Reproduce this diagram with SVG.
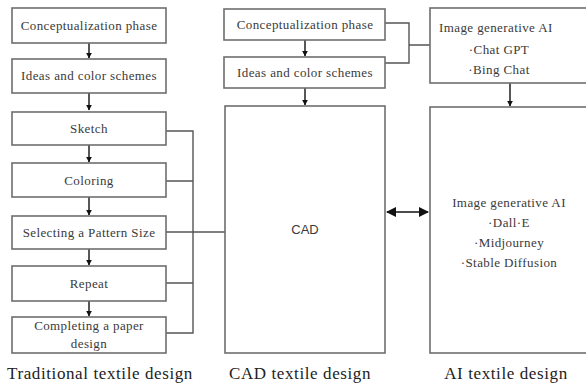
<svg xmlns="http://www.w3.org/2000/svg" width="586" height="388" viewBox="0 0 586 388">
<defs>
<style>
.box{fill:#fff;stroke:#6e6e6e;stroke-width:1.6}
.ln{fill:none;stroke:#555;stroke-width:1.4}
.arr{fill:none;stroke:#111;stroke-width:1.4}
.t{font-family:"Liberation Serif","DejaVu Serif",serif;font-size:13px;letter-spacing:0.4px;fill:#3a3a3a;text-anchor:middle}
.tl{font-family:"Liberation Serif","DejaVu Serif",serif;font-size:17px;letter-spacing:0.6px;fill:#222;text-anchor:middle}
.s{font-family:"Liberation Sans",Arial,sans-serif;font-size:13px;fill:#3a3a3a;text-anchor:middle}
</style>
<marker id="ah" viewBox="0 0 10 10" refX="9" refY="5" markerWidth="6" markerHeight="6" orient="auto-start-reverse" markerUnits="userSpaceOnUse">
<path d="M0,0 L10,5 L0,10 z" fill="#111"/>
</marker>
<marker id="ah2" viewBox="0 0 10 10" refX="9" refY="5" markerWidth="10" markerHeight="10" orient="auto-start-reverse" markerUnits="userSpaceOnUse">
<path d="M0,0 L10,5 L0,10 z" fill="#111"/>
</marker>
</defs>
<rect width="586" height="388" fill="#fff"/>
<g id="connectors">
<line class="arr" x1="89" y1="43" x2="89" y2="58" marker-end="url(#ah)"/>
<line class="arr" x1="89" y1="93" x2="89" y2="110" marker-end="url(#ah)"/>
<line class="arr" x1="89" y1="145" x2="89" y2="162" marker-end="url(#ah)"/>
<line class="arr" x1="89" y1="197" x2="89" y2="215" marker-end="url(#ah)"/>
<line class="arr" x1="89" y1="249" x2="89" y2="265" marker-end="url(#ah)"/>
<line class="arr" x1="89" y1="301" x2="89" y2="316" marker-end="url(#ah)"/>
<path class="ln" d="M166,131 H193 V333 H166 M166,181 H193 M166,283 H193 M166,232 H225"/>
<line class="arr" x1="305" y1="40" x2="305" y2="56" marker-end="url(#ah)"/>
<line class="arr" x1="305" y1="88" x2="305" y2="105" marker-end="url(#ah)"/>
<path class="ln" d="M385,23 H409 V63 H385 M409,45 H430"/>
<line class="arr" x1="510" y1="83" x2="510" y2="106" marker-end="url(#ah)"/>
<line class="arr" x1="387" y1="212" x2="428" y2="212" stroke-width="2.2" marker-start="url(#ah2)" marker-end="url(#ah2)"/>
</g>
<g id="trad-1"><rect class="box" x="12" y="8" width="154" height="35"/><text class="t" x="89" y="30">Conceptualization phase</text></g>
<g id="trad-2"><rect class="box" x="12" y="59" width="154" height="34"/><text class="t" x="89" y="80">Ideas and color schemes</text></g>
<g id="trad-3"><rect class="box" x="12" y="112" width="154" height="33"/><text class="t" x="89" y="133">Sketch</text></g>
<g id="trad-4"><rect class="box" x="12" y="163" width="154" height="34"/><text class="t" x="89" y="185">Coloring</text></g>
<g id="trad-5"><rect class="box" x="12" y="216" width="154" height="33"/><text class="t" x="89" y="237">Selecting a Pattern Size</text></g>
<g id="trad-6"><rect class="box" x="12" y="266" width="154" height="35"/><text class="t" x="89" y="288">Repeat</text></g>
<g id="trad-7"><rect class="box" x="12" y="317" width="154" height="36"/><text class="t" x="89" y="330">Completing a paper</text><text class="t" x="89" y="348">design</text></g>
<g id="cad-1"><rect class="box" x="224" y="9" width="161" height="31"/><text class="t" x="305" y="29">Conceptualization phase</text></g>
<g id="cad-2"><rect class="box" x="224" y="57" width="161" height="31"/><text class="t" x="305" y="77">Ideas and color schemes</text></g>
<g id="cad"><rect class="box" x="225" y="106" width="160" height="247"/><text class="s" x="305" y="234">CAD</text></g>
<g id="ai-1"><rect class="box" x="430" y="8" width="170" height="75"/><text class="t" x="439" y="32" style="text-anchor:start">Image generative AI</text><text class="t" x="499" y="54">·Chat GPT</text><text class="t" x="499" y="74">·Bing Chat</text></g>
<g id="ai-2"><rect class="box" x="430" y="107" width="170" height="246"/><text class="t" x="509" y="207">Image generative AI</text><text class="t" x="509" y="227">·Dall·E</text><text class="t" x="509" y="247">·Midjourney</text><text class="t" x="509" y="267">·Stable Diffusion</text></g>
<g id="labels"><text class="tl" x="100" y="379">Traditional textile design</text><text class="tl" x="300" y="379">CAD textile design</text><text class="tl" x="506" y="379">AI textile design</text></g>
</svg>
